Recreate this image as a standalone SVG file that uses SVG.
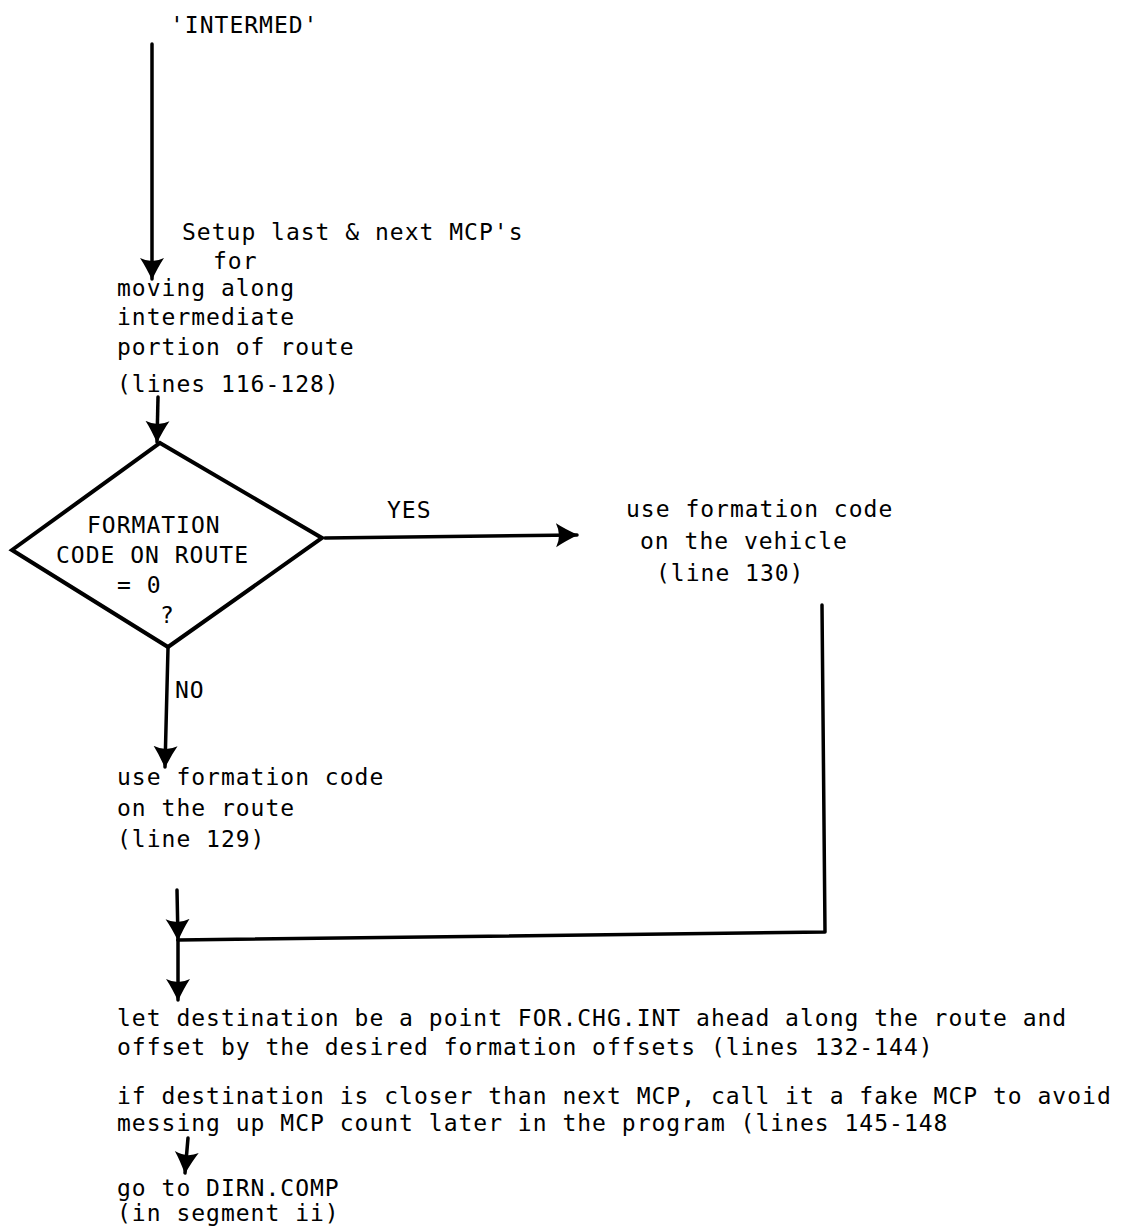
<svg xmlns="http://www.w3.org/2000/svg" width="1125" height="1226" viewBox="0 0 1125 1226">
<style>
text{font-family:"DejaVu Sans Mono","Liberation Mono",monospace;font-size:23px;letter-spacing:1px;fill:#000}
.ln{fill:none;stroke:#000;stroke-width:3.5;stroke-linecap:round;stroke-linejoin:round}
.shape{fill:none;stroke:#000;stroke-width:4;stroke-linejoin:miter}
</style>
<defs>
<marker id="ah" viewBox="0 0 22 26" refX="21" refY="13" markerWidth="22" markerHeight="26" markerUnits="userSpaceOnUse" orient="auto">
<path d="M0,1 Q9,7 22,13 Q9,19 0,25 Q6,13 0,1 z" fill="#000"/>
</marker>
</defs>
<rect width="1125" height="1226" fill="#fff"/>

<g id="start">
<text x="170" y="33">'INTERMED'</text>
</g>

<g id="setup">
<text x="182" y="240">Setup last &amp; next MCP's</text>
<text x="213" y="269">for</text>
<text x="117" y="296">moving along</text>
<text x="117" y="325">intermediate</text>
<text x="117" y="355">portion of route</text>
<text x="117" y="392">(lines 116-128)</text>
</g>

<g id="decision">
<polygon class="shape" points="160,443 322,538 168,647 12,550"/>
<text x="87" y="533">FORMATION</text>
<text x="56" y="563">CODE ON ROUTE</text>
<text x="117" y="593">= 0</text>
<text x="160" y="623">?</text>
</g>

<g id="use-vehicle">
<text x="626" y="517">use formation code</text>
<text x="640" y="549">on the vehicle</text>
<text x="656" y="581">(line 130)</text>
</g>

<g id="use-route">
<text x="117" y="785">use formation code</text>
<text x="117" y="816">on the route</text>
<text x="117" y="847">(line 129)</text>
</g>

<g id="destination">
<text x="117" y="1026">let destination be a point FOR.CHG.INT ahead along the route and</text>
<text x="117" y="1055">offset by the desired formation offsets (lines 132-144)</text>
<text x="117" y="1104">if destination is closer than next MCP, call it a fake MCP to avoid</text>
<text x="117" y="1131">messing up MCP count later in the program (lines 145-148</text>
</g>

<g id="goto">
<text x="117" y="1196">go to DIRN.COMP</text>
<text x="117" y="1221">(in segment ii)</text>
</g>

<g id="connectors">
<line class="ln" x1="152" y1="44" x2="152" y2="279" marker-end="url(#ah)"/>
<line class="ln" x1="158" y1="397" x2="157" y2="442" marker-end="url(#ah)"/>
<line class="ln" x1="325" y1="538" x2="577" y2="535" marker-end="url(#ah)"/>
<text x="387" y="518">YES</text>
<line class="ln" x1="168" y1="648" x2="165" y2="767" marker-end="url(#ah)"/>
<text x="175" y="698">NO</text>
<line class="ln" x1="177" y1="890" x2="178" y2="940" marker-end="url(#ah)"/>
<polyline class="ln" points="822,605 825,932 178,940"/>
<line class="ln" x1="178" y1="940" x2="178" y2="1000" marker-end="url(#ah)"/>
<line class="ln" x1="188" y1="1138" x2="185" y2="1173" marker-end="url(#ah)"/>
</g>
</svg>
